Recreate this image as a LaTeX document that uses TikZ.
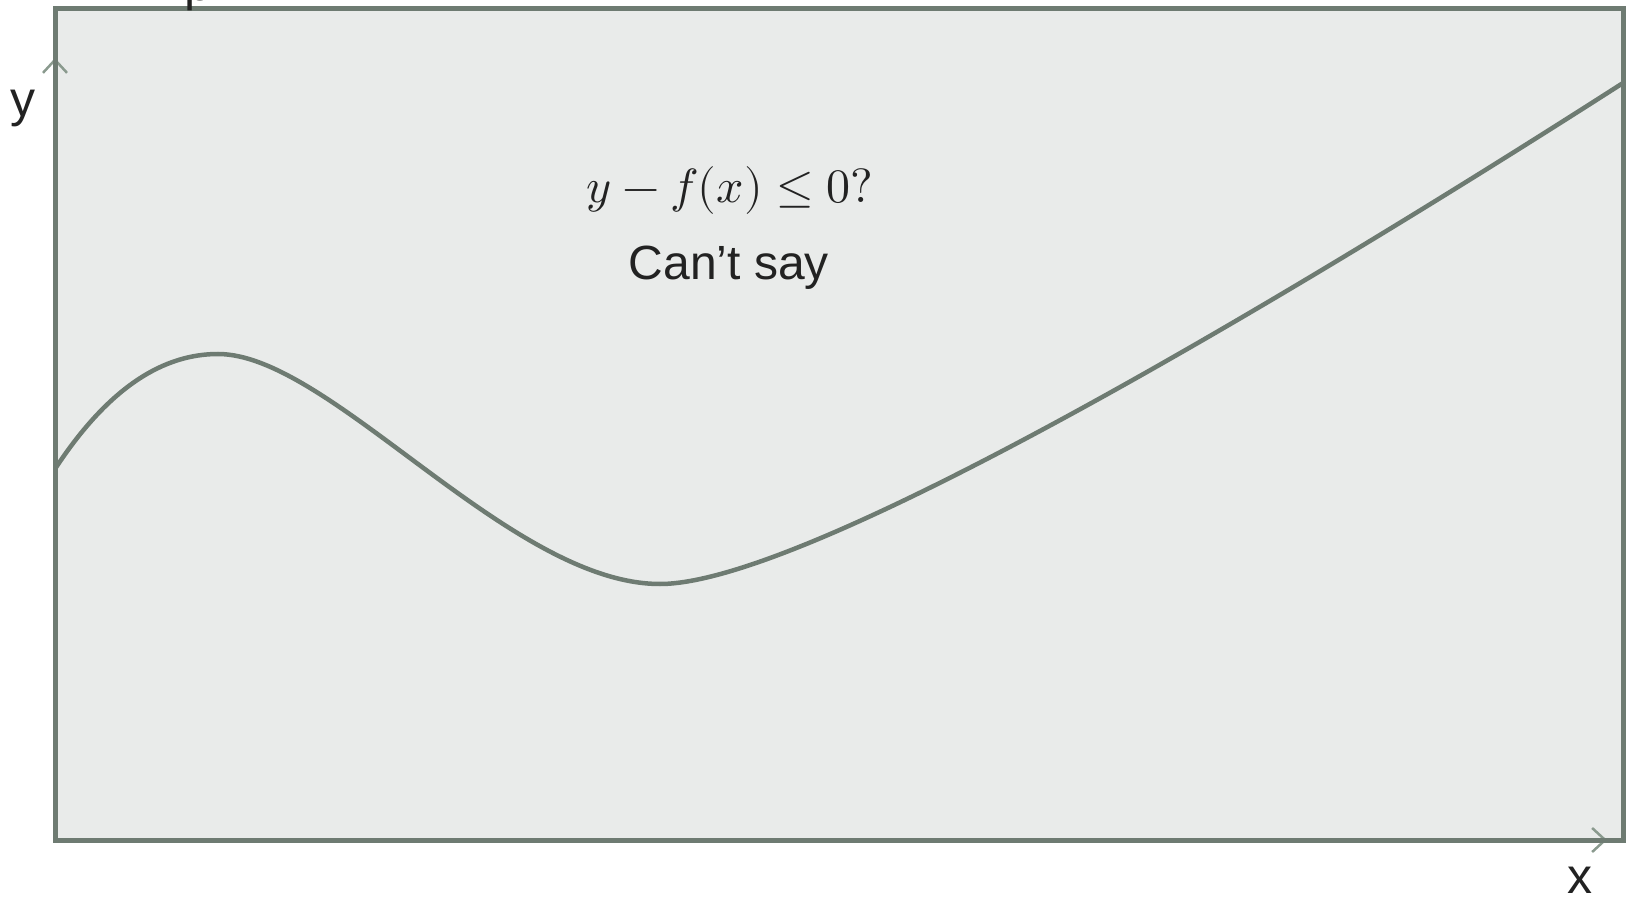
\documentclass[tikz,border=0pt]{standalone}
\usepackage{fontspec}
\usepackage{unicode-math}
\setmainfont{Liberation Sans}
\setmathfont{Latin Modern Math}
\usetikzlibrary{arrows.meta}
\definecolor{framec}{HTML}{6E7B72}
\definecolor{fillc}{HTML}{E9EBEA}
\definecolor{arrowc}{HTML}{8A9A8E}
\definecolor{textc}{HTML}{222222}
\tikzset{
  framebox/.style={draw=framec, line width=5pt, fill=fillc},
  axis/.style={draw=arrowc, line width=2.5pt, -{Straight Barb[length=13pt,width=24pt]}},
  curve/.style={draw=framec, line width=4.5pt},
  lbl/.style={text=textc, font=\fontsize{50}{60}\selectfont, inner sep=0pt},
}
\begin{document}
\begin{tikzpicture}[x=1pt,y=-1pt]
\useasboundingbox (0,0) rectangle (1626,901);
\coordinate (bl) at (55,840);
\coordinate (tr) at (1623,9);
\coordinate (ytip) at (55,58);
\coordinate (xtip) at (1607,840);
\fill[fillc] (bl) rectangle (tr);
\draw[axis] (bl) -- (ytip);
\draw[axis] (bl) -- (xtip);
\draw[framebox, fill=none] (bl) rectangle (tr);
\draw[curve] (55,469) .. controls (110,385) and (165,354) .. (218,354)
  .. controls (330,354) and (510,584) .. (660,584)
  .. controls (810,584) and (1300,290) .. (1623,83);
\node[lbl, anchor=base] (ylab) at (23,117) {y};
\node[lbl, anchor=base] (xlab) at (1580,893) {x};
\node[lbl, anchor=base west] (ptop) at (184,1) {p};
\node[lbl, anchor=base, font=\fontsize{48}{58}\selectfont] (q) at (730,203) {$y-f(x)\leq 0?$};
\node[lbl, anchor=base, font=\fontsize{48}{58}\selectfont] (say) at (729,280) {Can’t say};
\end{tikzpicture}
\end{document}
